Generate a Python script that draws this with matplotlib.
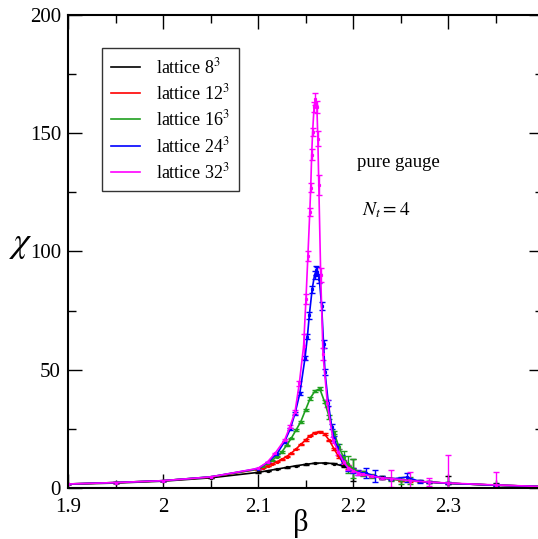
import matplotlib
matplotlib.use('Agg')
import matplotlib.pyplot as plt
from matplotlib.lines import Line2D
from matplotlib.ticker import MultipleLocator, FixedLocator, FixedFormatter

plt.rcParams['font.family'] = ['Liberation Serif', 'DejaVu Serif']
plt.rcParams['mathtext.fontset'] = 'stix'

# lattice 8^3
beta_8 = [1.90, 1.95, 2.00, 2.05, 2.10, 2.11, 2.12, 2.13, 2.14, 2.15, 2.16, 2.17, 2.18,
          2.19, 2.20, 2.21, 2.22, 2.23, 2.25, 2.27, 2.30, 2.35, 2.40]
chi_8 = [1.6, 2.1, 2.9, 4.3, 6.6, 7.3, 8.0, 8.7, 9.4, 10.0, 10.5, 10.6, 10.3,
         9.2, 7.6, 6.2, 5.2, 4.5, 3.5, 2.8, 2.0, 1.2, 0.6]
err_8 = [0.05, 0.05, 0.05, 0.1, 0.1, 0.1, 0.1, 0.1, 0.1, 0.1, 0.1, 0.1, 0.15,
         0.3, 4.5, 0.8, 0.5, 0.4, 0.4, 0.4, 3.0, 0.8, 0.3]

# lattice 12^3
beta_12 = [1.90, 1.95, 2.00, 2.05, 2.100, 2.105, 2.110, 2.115, 2.120, 2.125, 2.130, 2.135,
           2.140, 2.145, 2.150, 2.155, 2.160, 2.165, 2.170, 2.175, 2.180, 2.185, 2.190,
           2.195, 2.200, 2.21, 2.22, 2.23, 2.24, 2.25, 2.26, 2.28, 2.30, 2.35, 2.40]
chi_12 = [1.7, 2.3, 3.1, 4.6, 7.9, 8.6, 9.4, 10.2, 11.1, 12.1, 13.3, 14.7,
          16.5, 18.4, 20.3, 22.2, 23.4, 23.8, 22.8, 20.2, 16.6, 13.2, 10.6,
          8.9, 7.6, 6.0, 5.0, 4.3, 3.8, 3.4, 3.0, 2.5, 2.0, 1.2, 0.6]
err_12 = [0.05, 0.05, 0.05, 0.1, 0.1, 0.1, 0.1, 0.1, 0.15, 0.15, 0.15, 0.2,
          0.2, 0.2, 0.25, 0.3, 0.3, 0.3, 0.3, 0.3, 0.4, 0.5, 0.6,
          0.7, 0.8, 0.5, 0.4, 0.4, 0.3, 0.3, 0.3, 0.3, 0.3, 0.2, 0.1]

# lattice 16^3
beta_16 = [1.90, 1.95, 2.00, 2.05, 2.100, 2.105, 2.110, 2.115, 2.120, 2.125, 2.130, 2.135,
           2.140, 2.145, 2.150, 2.155, 2.160, 2.165, 2.170, 2.175, 2.180, 2.185, 2.190,
           2.195, 2.200, 2.21, 2.22, 2.23, 2.24, 2.25, 2.26, 2.28, 2.30, 2.35, 2.40]
chi_16 = [1.7, 2.3, 3.1, 4.7, 8.0, 9.2, 10.4, 11.8, 13.3, 15.2, 18.0, 21.0,
          24.5, 28.0, 33.0, 38.0, 41.0, 42.0, 36.5, 30.0, 23.5, 17.5, 13.0,
          10.0, 8.2, 6.2, 5.0, 4.3, 3.7, 3.3, 3.0, 2.5, 2.0, 1.2, 0.6]
err_16 = [0.05, 0.05, 0.05, 0.1, 0.1, 0.15, 0.2, 0.2, 0.25, 0.3, 0.3, 0.35,
          0.4, 0.5, 0.5, 0.6, 0.6, 0.7, 0.7, 0.7, 0.8, 1.2, 2.5,
          3.5, 4.0, 1.0, 0.8, 0.6, 0.6, 1.5, 1.5, 0.5, 0.5, 0.4, 0.2]

# lattice 24^3
beta_24 = [1.90, 1.95, 2.00, 2.05, 2.100, 2.110, 2.120, 2.128, 2.134, 2.139, 2.144, 2.1495,
           2.152, 2.154, 2.157, 2.1595, 2.1615, 2.1625, 2.1645, 2.167, 2.169, 2.1705,
           2.174, 2.1775, 2.180, 2.183, 2.188, 2.195, 2.200, 2.205, 2.214, 2.223,
           2.23, 2.24, 2.2565, 2.27, 2.28, 2.30, 2.35, 2.40]
chi_24 = [1.7, 2.3, 3.1, 4.7, 8.2, 10.8, 14.5, 19.6, 25.0, 31.6, 40.0, 55.0,
          64.0, 73.0, 84.0, 90.0, 92.0, 91.5, 88.5, 77.0, 61.0, 49.0,
          36.0, 26.0, 21.0, 17.5, 12.0, 8.3, 7.3, 6.6, 6.3, 5.0,
          4.4, 3.8, 4.6, 2.8, 2.5, 2.0, 1.2, 0.6]
err_24 = [0.05, 0.05, 0.05, 0.1, 0.1, 0.2, 0.3, 0.4, 0.5, 0.6, 0.8, 1.0,
          1.2, 1.4, 1.6, 1.8, 2.0, 1.8, 1.8, 1.8, 1.6, 1.4,
          1.2, 1.0, 1.0, 1.0, 2.0, 1.0, 1.0, 1.0, 2.0, 2.5,
          0.8, 0.6, 1.9, 0.5, 0.5, 0.4, 0.3, 0.2]

# lattice 32^3
beta_32 = [1.90, 1.95, 2.00, 2.05, 2.100, 2.110, 2.118, 2.128, 2.1337, 2.139, 2.1435, 2.148,
           2.1505, 2.1525, 2.1545, 2.1555, 2.1565, 2.1575, 2.1590, 2.1605, 2.1620, 2.1630,
           2.1640, 2.1660, 2.1684, 2.173, 2.179, 2.1845, 2.190, 2.195, 2.200, 2.205,
           2.21, 2.22, 2.23, 2.24, 2.26, 2.28, 2.30, 2.35, 2.40]
chi_32 = [1.7, 2.3, 3.1, 4.7, 8.3, 11.0, 14.7, 20.3, 26.0, 32.3, 44.3, 60.0,
          80.0, 98.0, 116.6, 127.0, 141.0, 150.7, 161.0, 164.5, 161.0, 147.6,
          128.0, 90.0, 56.6, 35.8, 20.3, 15.3, 11.0, 8.6, 7.4, 6.5,
          5.9, 5.0, 4.3, 4.0, 3.1, 2.5, 2.1, 1.3, 0.6]
err_32 = [0.05, 0.05, 0.05, 0.1, 0.1, 0.2, 0.3, 0.5, 0.6, 0.8, 1.0, 5.3,
          2.0, 2.0, 1.6, 1.8, 2.2, 1.7, 2.0, 2.5, 2.5, 3.2,
          4.2, 3.0, 2.5, 1.5, 1.2, 1.2, 1.0, 1.0, 0.8, 0.8,
          0.6, 0.5, 0.5, 3.5, 3.8, 1.7, 12.0, 5.6, 0.3]

labels = [r'lattice 8$^3$', r'lattice 12$^3$', r'lattice 16$^3$',
          r'lattice 24$^3$', r'lattice 32$^3$']
colors = ['black', 'red', '#1fa01f', 'blue', '#ff00ff']
series = [(beta_8, chi_8, err_8), (beta_12, chi_12, err_12), (beta_16, chi_16, err_16),
          (beta_24, chi_24, err_24), (beta_32, chi_32, err_32)]

fig = plt.figure(figsize=(5.38, 5.39), dpi=100)
ax = fig.add_axes([0.1264, 0.0946, 0.8829, 0.8776])

for (b, c, e), col in zip(series, colors):
    ax.errorbar(b, c, yerr=e, color=col, lw=1.2, elinewidth=1.0, capsize=2,
                capthick=1.0, marker='s', ms=1.3)

ax.set_xlim(1.9, 2.4)
ax.set_ylim(0, 200)
ax.xaxis.set_major_locator(FixedLocator([1.9, 2.0, 2.1, 2.2, 2.3]))
ax.xaxis.set_major_formatter(FixedFormatter(['1.9', '2', '2.1', '2.2', '2.3']))
ax.xaxis.set_minor_locator(MultipleLocator(0.05))
ax.yaxis.set_major_locator(MultipleLocator(50))
ax.yaxis.set_minor_locator(MultipleLocator(25))
ax.tick_params(which='both', direction='in', top=True, right=True, labelsize=15, width=1.0)
ax.tick_params(which='major', length=10)
ax.tick_params(which='minor', length=6)
ax.tick_params(axis='x', pad=7)
ax.tick_params(axis='y', pad=5)
for s in ax.spines.values():
    s.set_linewidth(1.5)

ax.set_xlabel('\u03b2', fontsize=22)
ax.xaxis.set_label_coords(0.49, -0.045)
ax.set_ylabel(r'$\chi$', fontsize=26, rotation=0)
ax.yaxis.set_label_coords(-0.1, 0.48)

ax.text(2.204, 137.5, 'pure gauge', fontsize=13.5, va='center', ha='left')
ax.text(2.209, 117.5, r'$N_t = 4$', fontsize=14, va='center', ha='left')

handles = [Line2D([], [], color=col, lw=1.2) for col in colors]
leg = ax.legend(handles, labels, loc='upper left', bbox_to_anchor=(0.0716, 0.930),
                borderaxespad=0, fontsize=13, frameon=True, fancybox=False,
                handlelength=1.6, labelspacing=0.35, borderpad=0.5, handletextpad=0.9)
leg.get_frame().set_edgecolor('black')
leg.get_frame().set_linewidth(1.0)

fig.savefig('out.png', dpi=100)
